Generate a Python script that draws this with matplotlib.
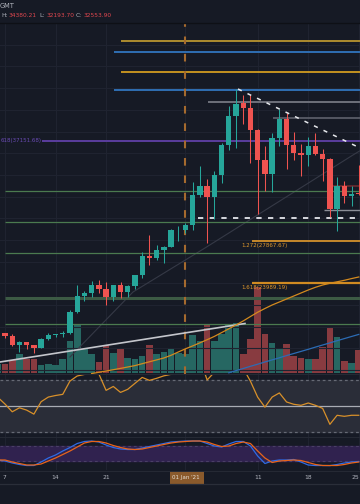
import numpy as np
import matplotlib
matplotlib.use("Agg")
import matplotlib.pyplot as plt
from matplotlib.patches import Rectangle
import matplotlib.transforms as mtransforms

plt.rcParams['font.family'] = ['DejaVu Sans']
plt.rcParams['lines.scale_dashes'] = False

# ---------------- data ----------------
# day index: 0 = 07 Dec 2020, 25 = 01 Jan 2021, 49 = 25 Jan 2021
days = list(range(-1, 50))
opens = [19145, 19359, 19166, 18324, 18541, 18254, 18036, 18808, 19175, 19273,
         19426, 21335, 22797, 23107, 23821, 23455, 22719, 23810, 23232, 23729,
         24712, 26493, 26281, 27079, 27385, 28875, 28923, 29331, 32176, 33000,
         31989, 33949, 36769, 39432, 40586, 40151, 38150, 35410, 34049, 37371,
         39145, 36737, 36025, 35828, 36622, 35901, 35468, 30851, 32950, 32078,
         32259]
highs = [19420, 19420, 19294, 18639, 18557, 18292, 18948, 19411, 19349, 19570,
         21560, 23800, 23285, 24171, 24295, 24102, 23837, 24100, 23794, 24789,
         26867, 28422, 27500, 27400, 28999, 29300, 29600, 33300, 34778, 33600,
         34360, 36939, 40365, 41950, 41380, 41350, 38264, 36628, 37850, 40100,
         39747, 37950, 36852, 37469, 37850, 36415, 35600, 33826, 33456, 32945,
         34875]
lows = [18857, 18902, 18200, 17650, 17911, 17572, 18020, 18711, 19000, 19050,
        19278, 21230, 22350, 22750, 23060, 22000, 22354, 22600, 22703, 23433,
        24500, 25700, 26101, 25880, 27320, 27850, 28624, 28946, 31962, 27734,
        29900, 33288, 36300, 36500, 38720, 35111, 30420, 32531, 32380, 36701,
        34538, 35357, 33850, 34800, 35844, 33400, 30071, 28850, 31390, 31100,
        32170]
closes = [19359, 19166, 18324, 18541, 18254, 18036, 18808, 19175, 19273, 19426,
          21335, 22797, 23107, 23821, 23455, 22719, 23810, 23232, 23729, 24712,
          26493, 26281, 27079, 27385, 28875, 28923, 29331, 32178, 33000, 31988,
          33949, 36769, 39432, 40582, 40151, 38150, 35404, 34051, 37371, 39144,
          36742, 36018, 35828, 36631, 35891, 35468, 30850, 32945, 32078, 32259,
          32254]
volumes = [9, 9, 13, 19, 14, 14, 8, 9, 8, 14,
           32, 48, 24, 19, 11, 28, 20, 24, 15, 14,
           17, 28, 19, 21, 25, 20, 19, 38, 32, 48,
           32, 39, 49, 50, 19, 34, 86, 39, 30, 24,
           29, 17, 15, 14, 14, 26, 45, 36, 12, 10,
           23]

ma_fast_days = list(range(12, 50))
ma_fast = [15660, 15775, 15895, 16015, 16135, 16264, 16393, 16569, 16744, 16919,
           17095, 17344, 17649, 17944, 18212, 18498, 18784, 19089, 19439, 19790,
           20141, 20519, 20925, 21322, 21664, 21987, 22264, 22541, 22818, 23095,
           23372, 23621, 23833, 23990, 24128, 24267, 24424, 24572]
ma_slow_days = list(range(31, 50))
ma_slow = [15729, 15932, 16126, 16329, 16523, 16726, 16920, 17114, 17317, 17511,
           17704, 17898, 18101, 18295, 18489, 18692, 18886, 19080, 19273]

rsi = [56.6, 51.4, 45.4, 48.5, 46.7, 43.6, 53.2, 56.8, 58.0, 58.9,
       69.2, 73.1, 74.3, 76.2, 74.7, 62.0, 65.0, 60.4, 62.8, 67.4,
       72.0, 69.7, 71.3, 73.2, 74.4, 76.5, 78.0, 84.0, 86.0, 70.0,
       76.0, 81.0, 85.0, 86.0, 79.0, 69.0, 56.7, 49.0, 56.8, 60.0,
       53.0, 51.2, 50.4, 52.2, 50.4, 48.0, 35.7, 42.7, 41.9, 42.7,
       42.7]
stoch_k = [22.8, 18.7, 10.6, 4.5, 0.4, 0.4, 14.6, 30.9, 43.1, 59.3,
           73.6, 89.8, 98.0, 100.0, 95.9, 83.7, 73.6, 67.5, 65.4, 65.4,
           71.5, 77.6, 83.7, 89.8, 95.9, 98.0, 100.0, 100.0, 100.0, 89.8,
           79.7, 75.6, 87.8, 98.0, 98.0, 79.7, 39.0, 8.5, 18.7, 22.8,
           22.8, 24.8, 14.6, 2.4, 0.4, 0.4, 0.0, 4.5, 10.6, 14.6,
           16.7]
stoch_d = [22.8, 22.8, 14.6, 8.5, 2.4, 2.4, 6.5, 18.7, 30.9, 45.1,
           59.3, 75.6, 91.9, 98.0, 98.0, 91.9, 81.7, 73.6, 67.5, 65.4,
           67.5, 73.6, 79.7, 85.8, 91.9, 95.9, 98.0, 100.0, 100.0, 95.9,
           85.8, 77.6, 79.7, 89.8, 95.9, 89.8, 59.3, 30.9, 12.6, 18.7,
           20.7, 22.8, 20.7, 12.6, 4.5, 0.4, 0.4, 0.4, 4.5, 10.6,
           14.6]

level_prices = [46354, 45339, 43493, 41831, 40751, 39219, 37151.68, 33016,
                32509, 30755, 30017, 29620, 27867.67, 26759, 23989.19, 22605, 20205]
level_start_days = [16.1, 15.1, 16.1, 15.1, 28.1, 37.1, 5.1, 45.3,
                    0, 44.2, 26.7, 0, 34.2, 0, 34.2, 0, 0]
level_kinds = ['gold', 'blue', 'yellow', 'blue', 'grey', 'grey2', 'purple', 'darkred',
               'green', 'grey3', 'whitedash', 'green', 'fib', 'green', 'fib2', 'greenthick', 'green']

fib_labels = ['618(37151.68)', '1.272(27867.67)', '1.618(23989.19)']
fib_label_prices = [37151.68, 27867.67, 23989.19]

# trendlines (day, price)
tri_days = [32.27, 49.17]
tri_prices = [41924, 36478]
faint_days = [9.0, 17.73, 27.7, 48.2, 49.2]
faint_prices = [17187, 23187, 27248, 35832, 36238]
vol_trend_days = [-0.69, 33.24]
vol_trend_prices = [16726, 20279]
marker_day = 25  # 01 Jan 2021

tick_days = [0, 7, 14, 35, 42, 49]
tick_labels = ['7', '14', '21', '11', '18', '25']

header_parts = [('H:', 34380.21), ('L:', 32193.70), ('C:', 32553.90)]

# ---------------- layout ----------------
W, H = 360, 504
BG = '#161a25'
fig = plt.figure(figsize=(W / 100, H / 100), dpi=100, facecolor=BG)


def R(x0, y0, x1, y1):
    return [x0 / W, 1 - y1 / H, (x1 - x0) / W, (y1 - y0) / H]


X0, X1 = -0.6925, 49.17
UP, DN = '#26a69a', '#ef5350'
VUP, VDN = '#266762', '#883b40'
GRID = '#1f2330'

# volume axis (below main)
axv = fig.add_axes(R(0, 23, 360, 373.5))
axv.set_facecolor(BG)
axv.set_xlim(X0, X1)
axv.set_ylim(-0.8, 349.7)
axv.axis('off')
for d in tick_days + [25]:
    axv.axvline(d, color=GRID, lw=0.8, zorder=0)

ax = fig.add_axes(R(0, 23, 360, 373.5))
ax.set_facecolor('none')
ax.set_xlim(X0, X1)
ax.set_ylim(15664, 48015)
ax.axis('off')
for p in range(16000, 48001, 2000):
    ax.axhline(p, color=GRID, lw=0.8, zorder=0)

for d, v, o, c in zip(days, volumes, opens, closes):
    axv.add_patch(Rectangle((d - 0.46, 0), 0.92, v, facecolor=VUP if c >= o else VDN,
                            edgecolor='none', zorder=1))

styles = {
    'gold': dict(color='#b8942f', lw=1.3),
    'blue': dict(color='#2f6fb3', lw=1.4),
    'yellow': dict(color='#f2b21f', lw=1.1),
    'grey': dict(color='#6e717b', lw=1.4),
    'grey2': dict(color='#5f626c', lw=1.2),
    'purple': dict(color='#5a3d9e', lw=1.4),
    'darkred': dict(color='#6b2a2e', lw=1.2),
    'green': dict(color='#4b7a4f', lw=0.9),
    'grey3': dict(color='#8a8d96', lw=1.0),
    'whitedash': dict(color='#d6d8de', lw=1.4, dashes=(3.8, 4.6)),
    'fib': dict(color='#e39b2c', lw=1.2),
    'fib2': dict(color='#d08b22', lw=1.6),
    'greenthick': dict(color='#3c5a44', lw=2.2),
}
for p, sd, k in zip(level_prices, level_start_days, level_kinds):
    st = dict(styles[k])
    dashes = st.pop('dashes', None)
    ln, = ax.plot([sd, X1 + 1], [p, p], solid_capstyle='butt', zorder=2, **st)
    if dashes:
        ln.set_dashes(dashes)

# labels of fib levels
ax.text(X0 + 0.05, fib_label_prices[0], fib_labels[0], color='#6a4bb5', fontsize=4.0,
        ha='left', va='center', zorder=6)
for lab, p in zip(fib_labels[1:], fib_label_prices[1:]):
    ax.text(32.8, p - 430, lab, color='#e0982c', fontsize=4.0, ha='left', va='center', zorder=6)

# faint diagonal, triangle & volume trend line
ax.plot(faint_days, faint_prices, color='#353946', lw=0.8, zorder=1.5)
tl, = ax.plot(tri_days, tri_prices, color='#e6e8ec', lw=1.1, zorder=6)
tl.set_dashes((3.0, 4.6))
ax.plot(vol_trend_days, vol_trend_prices, color='#c4c6cc', lw=1.2, zorder=2.5)

# moving averages
ax.plot(ma_fast_days, ma_fast, color='#d48a1e', lw=0.9, zorder=3)
ax.plot(ma_slow_days, ma_slow, color='#2c6cb5', lw=0.9, zorder=3)

# vertical dashed marker line (price pane)
vl = ax.axvline(marker_day, color='#a56a2e', lw=1.5, zorder=2.2)
vl.set_dashes((5.5, 7.0))

# candles
for d, o, h, l, c in zip(days, opens, highs, lows, closes):
    col = UP if c >= o else DN
    ax.vlines(d, l, h, color=col, lw=0.75, zorder=4)
    ax.add_patch(Rectangle((d - 0.37, min(o, c)), 0.74, max(abs(c - o), 70),
                           facecolor=col, edgecolor='none', zorder=5))

# ---------------- RSI pane ----------------
axr = fig.add_axes(R(0, 374, 360, 437))
axr.set_facecolor(BG)
axr.set_xlim(X0, X1)
axr.set_ylim(25.9, 74.64)
axr.axis('off')
for d in tick_days + [25]:
    axr.axvline(d, color=GRID, lw=0.8, zorder=0)
axr.axhspan(30, 70, color='#2a2d38', zorder=0.5)
for lv in (30, 70):
    l1, = axr.plot([X0, X1], [lv, lv], color='#666a75', lw=0.9, zorder=1)
    l1.set_dashes((2.0, 2.0))
axr.axhline(50, color='#a9acb4', lw=0.9, zorder=1)
axr.plot(days, rsi, color='#d8902a', lw=0.9, zorder=3)

# ---------------- Stoch RSI pane ----------------
axs = fig.add_axes(R(0, 437, 360, 470))
axs.set_facecolor(BG)
axs.set_xlim(X0, X1)
axs.set_ylim(-17.9, 116.3)
axs.axis('off')
for d in tick_days + [25]:
    axs.axvline(d, color=GRID, lw=0.8, zorder=0)
axs.axhspan(20, 80, color='#30224f', zorder=0.5)
for lv in (20, 80):
    l2, = axs.plot([X0, X1], [lv, lv], color='#4a3f66', lw=0.8, zorder=1)
    l2.set_dashes((2.0, 2.0))
axs.plot(days, stoch_k, color='#2e6be6', lw=0.9, zorder=3)
axs.plot(days, stoch_d, color='#e8641a', lw=0.9, zorder=3)

# ---------------- frame lines ----------------
def hline(y, color, lw=0.8):
    fig.add_artist(plt.Line2D([0, 1], [1 - y / H, 1 - y / H], color=color, lw=lw,
                              transform=fig.transFigure))

hline(23.3, '#0e1016', 1.0)
hline(373.8, '#262a35', 0.7)
hline(437.0, '#262a35', 0.7)
hline(470.5, '#262a35', 0.7)
hline(484.3, '#2a2e39', 0.9)

# ---------------- header ----------------
fig.text(0 / W, 1 - 6.5 / H, 'GMT', color='#b2b5be', fontsize=4.8, ha='left', va='center')
hx = [1.5, 39.0, 75.8]
for (lab, val), x in zip(header_parts, hx):
    fig.text(x / W, 1 - 15.4 / H, lab, color='#b2b5be', fontsize=4.2, ha='left', va='center')
    fig.text((x + 7.4) / W, 1 - 15.4 / H, f'{val:.2f}', color='#e0474f', fontsize=4.2,
             ha='left', va='center')

# ---------------- x-axis labels ----------------
trans = mtransforms.blended_transform_factory(axs.transData, fig.transFigure)
for d, lab in zip(tick_days[:-1], tick_labels[:-1]):
    fig.text(d, 1 - 477.5 / H, lab, transform=trans, color='#b2b5be', fontsize=4.3,
             ha='center', va='center')
fig.text(359.5 / W, 1 - 477.5 / H, tick_labels[-1], color='#b2b5be', fontsize=4.3,
         ha='right', va='center')
# crosshair date label
fig.add_artist(Rectangle((169.5 / W, 1 - 484 / H), 34 / W, 13.5 / H, transform=fig.transFigure,
                         facecolor='#8a5a2c', edgecolor='none'))
fig.text(marker_day, 1 - 477.5 / H, "01 Jan '21", transform=trans, color='#e8e0d6',
         fontsize=4.0, ha='center', va='center')

fig.savefig('out.png', dpi=100, facecolor=BG)
